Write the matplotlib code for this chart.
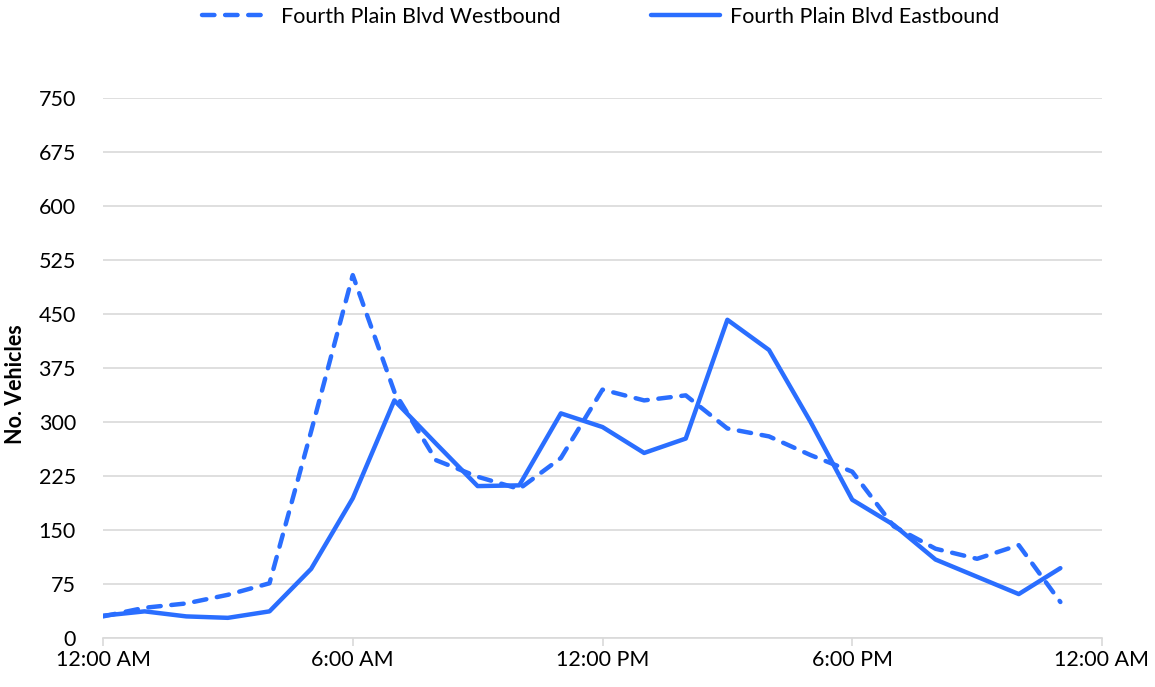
import matplotlib
matplotlib.use("Agg")
import matplotlib.pyplot as plt
from matplotlib.lines import Line2D

hours = list(range(24))
westbound = [30, 42, 48, 60, 76, 287, 504, 342, 247, 224, 207, 250,
             345, 330, 337, 291, 280, 254, 231, 155, 124, 110, 129, 50]
eastbound = [31, 37, 30, 28, 37, 96, 194, 330, 270, 211, 212, 312,
             293, 257, 277, 442, 400, 300, 192, 157, 109, 85, 61, 97]
x_ticks = [0, 6, 12, 18, 24]
x_labels = ["12:00 AM", "6:00 AM", "12:00 PM", "6:00 PM", "12:00 AM"]
y_ticks = [0, 75, 150, 225, 300, 375, 450, 525, 600, 675, 750]

plt.rcParams['font.family'] = ['Lato', 'DejaVu Sans']
color = "#2A6EFF"
dash = (0, (2.8, 2.4))
fs = 15.5

fig = plt.figure(figsize=(11.55, 6.87), dpi=100)
ax = fig.add_axes([103/1155, 1-638/687, (1102-103)/1155, (638-98)/687])

ax.plot(hours, westbound, color=color, lw=3.2, linestyle=dash,
        dash_capstyle='round', solid_joinstyle='round', label="Fourth Plain Blvd Westbound")
ax.plot(hours, eastbound, color=color, lw=3.2, solid_capstyle='round',
        solid_joinstyle='round', label="Fourth Plain Blvd Eastbound")

ax.set_xlim(0, 24)
ax.set_ylim(0, 750)
ax.set_xticks(x_ticks)
ax.set_xticklabels(x_labels, fontsize=fs)
ax.set_yticks(y_ticks)
ax.set_yticklabels([str(v) for v in y_ticks], fontsize=fs)
ax.grid(axis='y', color='#d9d9d9', lw=1.2)
ax.set_axisbelow(True)
for s in ['top', 'right', 'left']:
    ax.spines[s].set_visible(False)
ax.spines['bottom'].set_color('#d9d9d9')
ax.spines['bottom'].set_linewidth(1.2)
ax.tick_params(axis='y', length=0, pad=19.5, colors='black')
ax.tick_params(axis='x', length=6, width=1.2, color='#d9d9d9', pad=3)

fig.text(16/1155, 1 - 384/687, "No. Vehicles", rotation=90, ha='center', va='center',
         fontsize=fs, fontweight='bold')

handles = [Line2D([0], [0], color=color, lw=3.2, linestyle=dash, dash_capstyle='round'),
           Line2D([0], [0], color=color, lw=3.2, solid_capstyle='round')]
fig.legend(handles, ["Fourth Plain Blvd Westbound", "Fourth Plain Blvd Eastbound"],
           loc='upper center', bbox_to_anchor=(0.52, 1.018), ncol=2, frameon=False,
           fontsize=fs, handlelength=3.2, handletextpad=0.45, columnspacing=4.2)

fig.savefig("out.png", dpi=100)
